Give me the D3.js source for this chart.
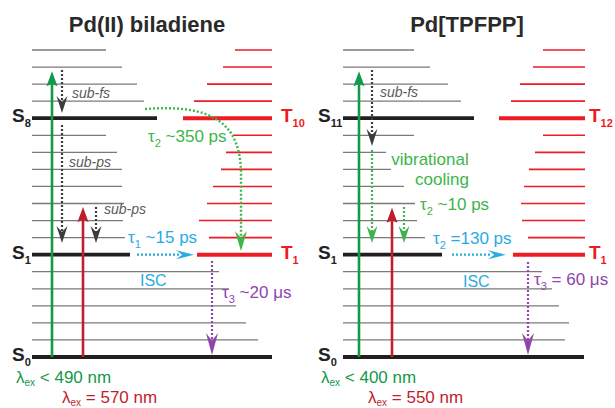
<!DOCTYPE html>
<html>
<head>
<meta charset="utf-8">
<script src="https://cdn.jsdelivr.net/npm/d3@7"></script>
<style>
  body { margin: 0; background: #fff; }
  svg { display: block; font-family: "Liberation Sans", Arial, sans-serif; }
</style>
</head>
<body>
<svg id="vis" width="615" height="408"></svg>
<script>
// vibrational level index, 0 = S0 ground state
const levels = d3.range(19);
const thickLevels = [0, 6, 14];

// panel A: Pd(II) biladiene - right end of singlet lines, left start of triplet lines
const singletEndA = [272, 258, 246, 236, 229, 219, 130, 125, 123, 124, 122, 122, 117, 106, 157, 144, 137, 122, 106];
const tripletStartA = [null, null, null, null, null, null, 197, 209, 199, 207, 213, 221, 226, 233, 183, 194, 207, 223, 235];

// panel B: Pd[TPFPP]
const singletEndB = [584, 565, 569, 559, 552, 542, 442, 425, 417, 415, 404, 391, 386, 414, 474, 461, 448, 430, 414];
const tripletStartB = [null, null, null, null, null, null, 513, 528, 522, 521, 524, 529, 535, 543, 499, 511, 520, 533, 543];

// state labels
const stateLabelsA = [{ lvl: 0, s: "0" }, { lvl: 6, s: "1", t: "1" }, { lvl: 14, s: "8", t: "10" }];
const stateLabelsB = [{ lvl: 0, s: "0" }, { lvl: 6, s: "1", t: "1" }, { lvl: 14, s: "11", t: "12" }];

// excitation arrows (level reached)
const excitationA = [{ kind: "green", top: 16.75 }, { kind: "red", top: 8.8 }];
const excitationB = [{ kind: "green", top: 16.75 }, { kind: "red", top: 8.75 }];

const colors = {
  gray: "#7a7a7a", black: "#231f20", red: "#ed1c24",
  green: "#12994a", darkred: "#be1e2d", lgreen: "#3db54a",
  blue: "#29abe2", purple: "#8e45ad", dgray: "#3c3c3c", text: "#2a2a2a"
};

const svg = d3.select("#vis");
const y = d3.scaleLinear().domain([0, 18]).range([357, 50]);
const x = d3.scaleLinear().domain([0, 615]).range([0, 615]);

function hline(x1, x2, lvl, color, w) {
  svg.append("line")
    .attr("x1", x(x1)).attr("x2", x(x2))
    .attr("y1", y(lvl)).attr("y2", y(lvl))
    .attr("stroke", color).attr("stroke-width", w);
}

function head(px, py, angle, len, hw, color, notch) {
  // tip at (px,py), pointing along angle (degrees)
  const n = notch == null ? 0.65 : notch;
  svg.append("path")
    .attr("d", `M0,0 L${-len},${-hw} L${-len * n},0 L${-len},${hw} Z`)
    .attr("transform", `translate(${px},${py}) rotate(${angle})`)
    .attr("fill", color);
}

function dotted(x1, y1, x2, y2, color) {
  svg.append("line")
    .attr("x1", x1).attr("y1", y1).attr("x2", x2).attr("y2", y2)
    .attr("stroke", color).attr("stroke-width", 2.2)
    .attr("stroke-dasharray", "2,2");
}

function downArrow(px, fromY, tipY, color, headColor, len, hw) {
  const L = len || 17;
  dotted(px, fromY, px, tipY - L * 0.6, color);
  head(px, tipY, 90, L, hw || 5.5, headColor || color);
}

function subText(px, py, parts, size, color, opts) {
  const o = opts || {};
  const t = svg.append("text").attr("x", px).attr("y", py)
    .attr("font-size", size).attr("fill", color)
    .attr("font-weight", o.bold ? "bold" : null)
    .attr("font-style", o.italic ? "italic" : null)
    .attr("text-anchor", o.anchor || "start");
  let shift = 0;
  parts.forEach(p => {
    const d = p.sub ? (o.subDy || 5) : 0;
    t.append("tspan").attr("dy", d - shift)
      .attr("font-size", p.sub ? (o.subSize || size * 0.62) : null)
      .text(p.t);
    shift = d;
  });
  return t;
}

function panel(cfg) {
  svg.append("text").attr("x", cfg.titleX).attr("y", 32)
    .attr("text-anchor", "middle").attr("font-size", 22)
    .attr("font-weight", "bold").attr("fill", colors.text)
    .text(cfg.title);

  levels.forEach(l => {
    const thick = thickLevels.includes(l);
    hline(cfg.sStart, cfg.singletEnd[l], l, thick ? colors.black : colors.gray, thick ? 3.8 : 1.3);
    if (cfg.tripletStart[l] != null)
      hline(cfg.tripletStart[l], cfg.tEnd, l, colors.red, thick ? 4 : 1.6);
  });

  cfg.stateLabels.forEach(d => {
    subText(cfg.sLabelX, y(d.lvl) + 4, [{ t: "S" }, { t: d.s, sub: true }], 19, "#222",
      { bold: true, subSize: 11, subDy: 5 });
    if (d.t)
      subText(cfg.tLabelX, y(d.lvl) + 4, [{ t: "T" }, { t: d.t, sub: true }], 19, colors.red,
        { bold: true, subSize: 11, subDy: 5 });
  });

  cfg.excitation.forEach(d => {
    const ax = d.kind === "green" ? cfg.greenX : cfg.redX;
    const c = d.kind === "green" ? colors.green : colors.darkred;
    svg.append("line").attr("x1", ax).attr("x2", ax)
      .attr("y1", y(0)).attr("y2", y(d.top) + 10)
      .attr("stroke", c).attr("stroke-width", 2.6);
    head(ax, y(d.top), -90, 15, 5.5, c, 0.85);
  });
}

panel({
  title: "Pd(II) biladiene", titleX: 147, sStart: 32, tEnd: 272,
  singletEnd: singletEndA, tripletStart: tripletStartA,
  stateLabels: stateLabelsA, sLabelX: 12, tLabelX: 281,
  excitation: excitationA, greenX: 52, redX: 83
});
panel({
  title: "Pd[TPFPP]", titleX: 467, sStart: 343, tEnd: 585,
  singletEnd: singletEndB, tripletStart: tripletStartB,
  stateLabels: stateLabelsB, sLabelX: 318, tLabelX: 589,
  excitation: excitationB, greenX: 359, redX: 392
});

// ---- panel A relaxation paths
downArrow(62, 70, 113, colors.dgray, colors.dgray);
downArrow(62, 125, 243, colors.dgray, colors.dgray);
downArrow(96, 207, 243, colors.dgray, colors.dgray);
subText(72, 98, [{ t: "sub-fs" }], 14, "#5a5a5a", { italic: true });
subText(69, 167, [{ t: "sub-ps" }], 14, "#5a5a5a", { italic: true });
subText(104, 214, [{ t: "sub-ps" }], 14, "#5a5a5a", { italic: true });

// S8 -> T10 -> T1 curved ISC
svg.append("path")
  .attr("d", "M145,109 C212,104 241,122 241,175 L241,238")
  .attr("fill", "none").attr("stroke", colors.lgreen)
  .attr("stroke-width", 2.4).attr("stroke-dasharray", "2,2");
head(241, 251, 90, 20, 6, colors.lgreen);
subText(148, 142, [{ t: "τ" }, { t: "2", sub: true }, { t: " ~350 ps" }], 17, colors.lgreen, { subSize: 11 });

// S1 -> T1
dotted(137, y(6), 180, y(6), colors.blue);
head(194, y(6), 0, 18, 4.5, colors.blue);
subText(128, 243, [{ t: "τ" }, { t: "1", sub: true }, { t: " ~15 ps" }], 17, colors.blue, { subSize: 11 });
subText(140, 286, [{ t: "ISC" }], 16, colors.blue);

// T1 -> S0
downArrow(212, 261, 355, colors.purple, colors.purple, 22, 6);
subText(222, 298, [{ t: "τ" }, { t: "3", sub: true }, { t: " ~20 μs" }], 17, colors.purple, { subSize: 11 });

subText(16, 383, [{ t: "λ" }, { t: "ex", sub: true }, { t: " < 490 nm" }], 17, colors.green, { subSize: 10, subDy: 3 });
subText(62, 403, [{ t: "λ" }, { t: "ex", sub: true }, { t: " = 570 nm" }], 17, colors.darkred, { subSize: 10, subDy: 3 });

// ---- panel B relaxation paths
downArrow(372, 70, 146, colors.dgray, colors.dgray);
downArrow(372, 150, 243, colors.lgreen, colors.lgreen);
downArrow(404, 207, 243, colors.lgreen, colors.lgreen);
subText(380, 97, [{ t: "sub-fs" }], 14, "#5a5a5a", { italic: true });
subText(430, 165, [{ t: "vibrational" }], 17, colors.lgreen, { anchor: "middle" });
subText(442, 185, [{ t: "cooling" }], 17, colors.lgreen, { anchor: "middle" });
subText(420, 210, [{ t: "τ" }, { t: "2", sub: true }, { t: " ~10 ps" }], 17, colors.lgreen, { subSize: 11 });

dotted(452, y(6), 492, y(6), colors.blue);
head(506, y(6), 0, 18, 4.5, colors.blue);
subText(433, 244, [{ t: "τ" }, { t: "2", sub: true }, { t: " =130 ps" }], 17, colors.blue, { subSize: 11 });
subText(463, 287, [{ t: "ISC" }], 16, colors.blue);

downArrow(528, 262, 355, colors.purple, colors.purple, 22, 6);
subText(534, 285, [{ t: "τ" }, { t: "3", sub: true }, { t: " = 60 μs" }], 17, colors.purple, { subSize: 11 });

subText(321, 383, [{ t: "λ" }, { t: "ex", sub: true }, { t: " < 400 nm" }], 17, colors.green, { subSize: 10, subDy: 3 });
subText(368, 403, [{ t: "λ" }, { t: "ex", sub: true }, { t: " = 550 nm" }], 17, colors.darkred, { subSize: 10, subDy: 3 });
</script>
</body>
</html>
